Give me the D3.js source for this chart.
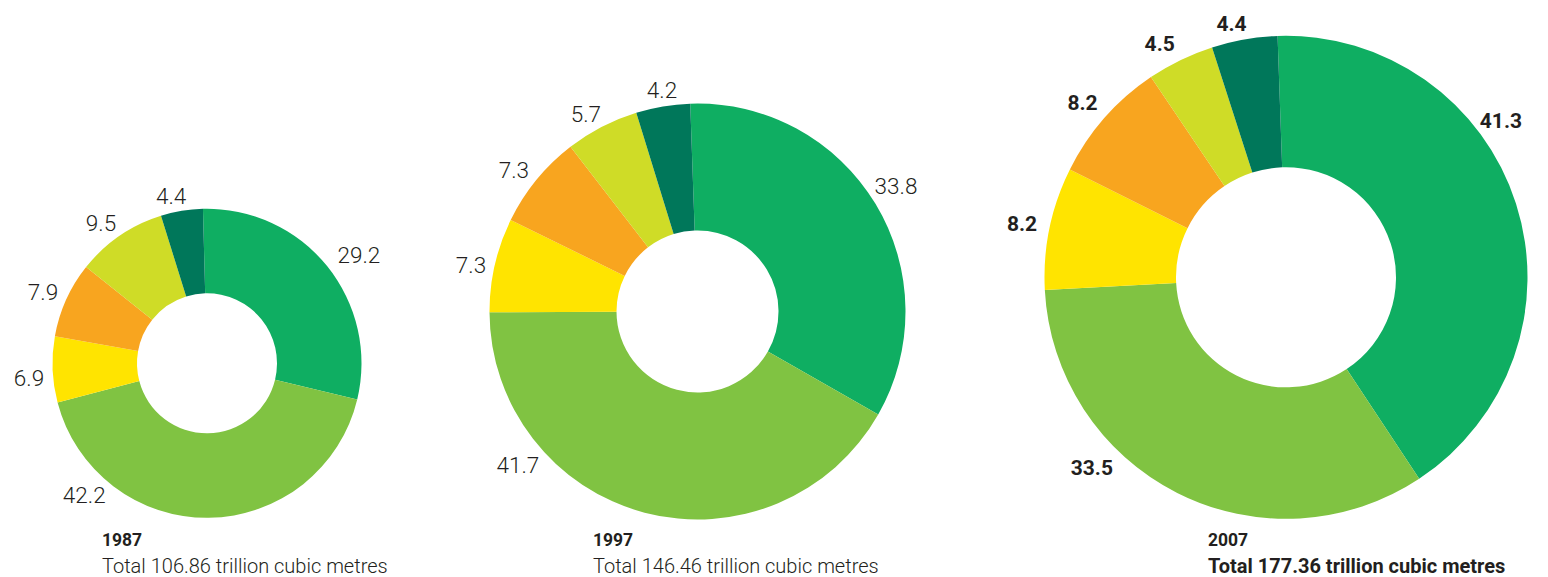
<!DOCTYPE html>
<html>
<head>
<meta charset="utf-8">
<script src="https://cdn.jsdelivr.net/npm/d3@7/dist/d3.min.js"></script>
<style>
  html, body { margin: 0; padding: 0; background: #fff; }
  svg { display: block; }
</style>
</head>
<body>
<svg id="chart" width="1548" height="577"></svg>
<script>
// ---- data ----
const regions = ["Middle East", "Europe & Eurasia", "Asia Pacific", "Africa", "North America", "S. & Cent. America"];
const years = ["1987", "1997", "2007"];
const totals = ["106.86", "146.46", "177.36"];
const values1987 = [29.2, 42.2, 6.9, 7.9, 9.5, 4.4];
const values1997 = [33.8, 41.7, 7.3, 7.3, 5.7, 4.2];
const values2007 = [41.3, 33.5, 8.2, 8.2, 4.5, 4.4];
const seriesValues = [values1987, values1997, values2007];

// ---- styles / layout ----
const colors = ["#0fae62", "#80c342", "#ffe400", "#f8a51f", "#cfdc27", "#00775a"];
const layout = [
  { cx: 207, cy: 363.3, r: 154.5, ri: 70, rot: -1.5, bold: false,
    labelAng: [54.5, 223, 265.3, 293.5, 322.9, 347.9],
    labelDist: [186.6, 180, 178.6, 178.8, 175.8, 171], titleX: 102 },
  { cx: 697.5, cy: 311.5, r: 208, ri: 81, rot: -2, bold: false,
    labelAng: [57.7, 229.5, 281.6, 307.6, 330.6, 350.9],
    labelDist: [234.8, 236.2, 231.2, 231.7, 227.4, 224.3], titleX: 593 },
  { cx: 1286, cy: 277.3, r: 241.5, ri: 110, rot: -2, bold: true,
    labelAng: [53.9, 225.6, 281.6, 310.7, 331.6, 347.9],
    labelDist: [266, 271.7, 269.5, 268.4, 265.6, 259.7], titleX: 1208 }
];
const textColor = "#231f20";
const fontFamily = "Roboto, 'Liberation Sans', Arial, sans-serif";

const svg = d3.select("#chart");
const color = d3.scaleOrdinal().domain(regions).range(colors);
const rad = d => d * Math.PI / 180;

seriesValues.forEach((vals, ci) => {
  const L = layout[ci];
  const data = regions.map((name, i) => ({ name, value: vals[i] }));
  const pie = d3.pie().sort(null).value(d => d.value)
    .startAngle(rad(L.rot)).endAngle(rad(L.rot) + 2 * Math.PI);
  const arc = d3.arc().innerRadius(L.ri).outerRadius(L.r);
  const g = svg.append("g").attr("transform", `translate(${L.cx},${L.cy})`);

  g.selectAll("path").data(pie(data)).join("path")
    .attr("d", arc)
    .attr("fill", d => color(d.data.name));

  g.selectAll("text.lbl").data(data).join("text")
    .attr("class", "lbl")
    .attr("x", (d, i) => Math.sin(rad(L.labelAng[i])) * L.labelDist[i])
    .attr("y", (d, i) => -Math.cos(rad(L.labelAng[i])) * L.labelDist[i])
    .attr("dy", "0.36em")
    .attr("text-anchor", "middle")
    .attr("font-family", fontFamily)
    .attr("font-size", L.bold ? 21 : 22.5)
    .attr("font-weight", L.bold ? 700 : 300)
    .attr("fill", textColor)
    .text(d => d.value.toFixed(1));

  svg.append("text")
    .attr("x", L.titleX).attr("y", 545.5)
    .attr("font-family", fontFamily)
    .attr("font-size", 17.5)
    .attr("font-weight", 700)
    .attr("fill", textColor)
    .text(years[ci]);

  svg.append("text")
    .attr("x", L.titleX).attr("y", 572.5)
    .attr("font-family", fontFamily)
    .attr("font-size", 20)
    .attr("font-weight", L.bold ? 700 : 300)
    .attr("fill", textColor)
    .text(`Total ${totals[ci]} trillion cubic metres`);
});
</script>
</body>
</html>
